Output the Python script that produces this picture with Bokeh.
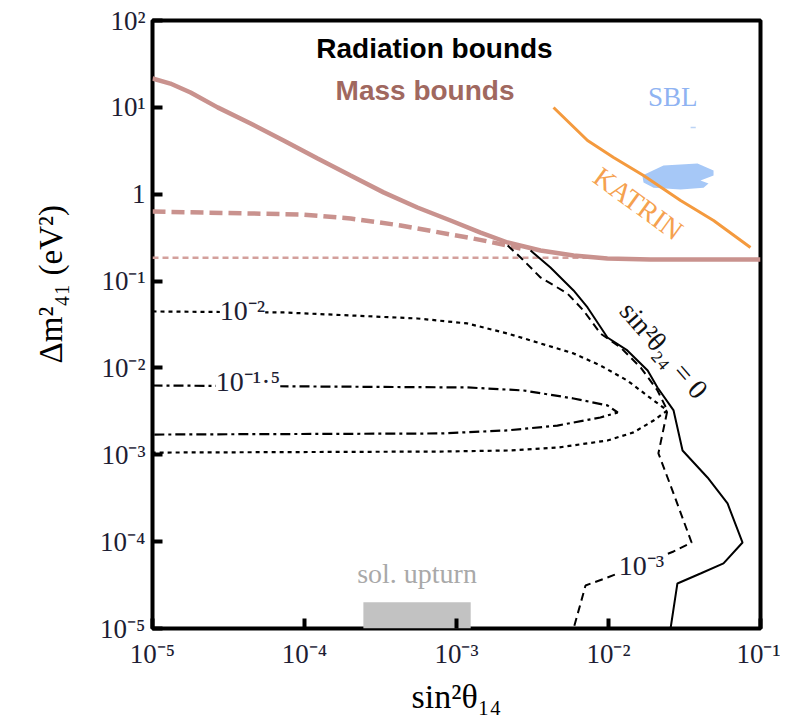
import math
from bokeh.plotting import figure
from bokeh.models import Range1d, FixedTicker, Label, Title
from bokeh.embed import file_html
from bokeh.resources import INLINE

# ---------------- data ----------------
x_ticks = [1e-5, 1e-4, 1e-3, 1e-2, 1e-1]
x_tick_labels = ["10⁻⁵", "10⁻⁴", "10⁻³", "10⁻²", "10⁻¹"]
y_ticks = [1e-5, 1e-4, 1e-3, 1e-2, 1e-1, 1.0, 10.0, 100.0]
y_tick_labels = ["10⁻⁵", "10⁻⁴", "10⁻³", "10⁻²", "10⁻¹", "1", "10¹", "10²"]

# mass bounds (pink)
mass_solid_x = [1.0e-5, 1.31e-5, 1.78e-5, 2.68e-5, 4.42e-5, 7.28e-5, 1.22e-4, 2.01e-4,
                3.31e-4, 5.53e-4, 9.14e-4, 1.44e-3, 2.17e-3, 3.57e-3, 5.89e-3, 9.84e-3,
                1.89e-2, 1.0e-1]
mass_solid_y = [21.5, 18.8, 14.8, 10.0, 6.52, 4.16, 2.58, 1.64,
                1.05, 0.703, 0.498, 0.362, 0.278, 0.225, 0.197, 0.182,
                0.177, 0.177]
mass_dashed_x = [1.0e-5, 4.42e-5, 9.42e-5, 2.01e-4, 4.29e-4, 9.14e-4, 1.29e-3, 2.17e-3, 2.64e-3]
mass_dashed_y = [0.632, 0.600, 0.585, 0.525, 0.437, 0.344, 0.309, 0.257, 0.237]
mass_dotted_x = [1.0e-5, 7.6e-3]
mass_dotted_y = [0.185, 0.185]

# KATRIN (orange)
katrin_x = [4.35e-3, 7.28e-3, 1.08e-2, 1.70e-2, 2.98e-2, 4.91e-2, 8.59e-2]
katrin_y = [9.95, 4.15, 2.65, 1.64, 0.847, 0.498, 0.244]

# SBL region (light blue)
sbl_x = [1.67e-2, 2.30e-2, 3.85e-2, 4.91e-2, 4.91e-2, 4.03e-2, 4.55e-2, 4.22e-2,
         2.98e-2, 1.98e-2, 1.70e-2]
sbl_y = [1.64, 2.14, 2.26, 1.87, 1.64, 1.44, 1.33, 1.19, 1.13, 1.19, 1.36]
sbl_mark_x = [3.47e-2, 3.75e-2]
sbl_mark_y = [5.86, 5.86]

# radiation bounds: sin^2(theta24) = 0 (solid)
rad0_x = [3.07e-3, 4.15e-3, 5.89e-3, 7.28e-3, 9.84e-3, 1.33e-2, 1.81e-2, 2.10e-2,
          2.68e-2, 3.07e-2, 4.48e-2, 6.07e-2, 7.62e-2, 5.71e-2, 4.03e-2, 2.84e-2, 2.56e-2]
rad0_y = [0.225, 0.143, 0.078, 0.0497, 0.0224, 0.0159, 9.35e-3, 5.96e-3,
          3.24e-3, 1.12e-3, 5.48e-4, 2.75e-4, 9.77e-5, 5.61e-5, 4.30e-5, 3.30e-5, 1.0e-5]

# sin^2(theta24) = 1e-3 (dashed)
rad3_x = [2.17e-3, 2.64e-3, 3.57e-3, 5.37e-3, 6.85e-3, 8.85e-3, 1.20e-2, 1.63e-2,
          2.10e-2, 2.44e-2, 2.13e-2, 2.68e-2, 3.52e-2, 2.68e-2, 9.84e-3, 7.06e-3,
          6.55e-3, 5.89e-3]
rad3_y = [0.257, 0.187, 0.110, 0.0719, 0.0458, 0.0249, 0.0172, 0.0101,
          5.50e-3, 3.24e-3, 1.04e-3, 3.58e-4, 9.77e-5, 7.71e-5, 3.86e-5, 3.13e-5,
          1.94e-5, 1.0e-5]

# sin^2(theta24) = 1e-2 (dotted)
rad2_x = [1.0e-5, 7.28e-5, 2.01e-4, 5.53e-4, 1.18e-3, 2.17e-3, 5.89e-3, 8.85e-3,
          1.33e-2, 1.98e-2, 2.44e-2, 1.98e-2, 1.46e-2, 9.84e-3, 4.61e-3, 2.17e-3,
          7.85e-4, 1.0e-5]
rad2_y = [0.0447, 0.0435, 0.0402, 0.0371, 0.0325, 0.0249, 0.0147, 0.01067,
          7.16e-3, 4.22e-3, 3.24e-3, 2.48e-3, 1.81e-3, 1.46e-3, 1.21e-3, 1.12e-3,
          1.09e-3, 1.06e-3]

# sin^2(theta24) = 10^-1.5 (dash-dot)
rad15_x = [1.0e-5, 1.18e-3, 2.76e-3, 5.89e-3, 9.84e-3, 1.15e-2, 8.85e-3, 4.61e-3,
           2.17e-3, 7.85e-4, 1.0e-5]
rad15_y = [6.28e-3, 5.96e-3, 5.50e-3, 4.45e-3, 3.70e-3, 3.07e-3, 2.69e-3, 2.17e-3,
           1.91e-3, 1.76e-3, 1.71e-3]

# solar upturn band
sol_left, sol_right = 2.44e-4, 1.24e-3
sol_bottom, sol_top = 1.0e-5, 2.0e-5

# ---------------- figure ----------------
SERIF = "Liberation Serif"
SANS = "Liberation Sans"

p = figure(frame_width=608, frame_height=608, x_axis_type="log", y_axis_type="log",
           x_range=Range1d(1e-5, 1e-1), y_range=Range1d(1e-5, 1e2),
           output_backend="svg", toolbar_location=None,
           min_border_left=152, min_border_right=20, min_border_top=20,
           min_border_bottom=86)
p.grid.visible = False
p.background_fill_color = "white"
p.border_fill_color = "white"
p.outline_line_color = "black"
p.outline_line_width = 4
p.outline_line_alpha = 1.0

p.xaxis.ticker = FixedTicker(ticks=x_ticks)
p.yaxis.ticker = FixedTicker(ticks=y_ticks)
p.xaxis.major_label_overrides = dict(zip(x_ticks, x_tick_labels))
p.yaxis.major_label_overrides = dict(zip(y_ticks, y_tick_labels))
for ax in (p.xaxis, p.yaxis):
    ax.axis_line_color = None
    ax.major_tick_in = 10
    ax.major_tick_out = 0
    ax.major_tick_line_width = 4
    ax.major_tick_line_color = "black"
    ax.minor_tick_line_color = None
    ax.major_label_text_font = SERIF
    ax.major_label_text_font_size = "27px"
    ax.major_label_text_color = "#1d1d33"
p.xaxis.major_label_standoff = 10
p.yaxis.major_label_standoff = 7

p.xaxis.axis_label = "sin²θ₁₄"
p.xaxis.axis_label_text_font = SERIF
p.xaxis.axis_label_text_font_size = "34px"
p.xaxis.axis_label_text_font_style = "normal"
p.xaxis.axis_label_text_color = "black"
p.xaxis.axis_label_standoff = 6

# y-axis title, shifted up like in the original
p.add_layout(Title(text="Δm²₄₁ (eV²)", align="left", offset=265, standoff=58,
                   vertical_align="bottom",
                   text_font=SERIF, text_font_size="33px", text_font_style="normal",
                   text_color="black"), "left")

# solar upturn box
p.quad(left=[sol_left], right=[sol_right], bottom=[sol_bottom], top=[sol_top],
       fill_color="#c2c2c2", line_color=None)

# SBL region
p.patch(sbl_x, sbl_y, fill_color="#a6c8f7", line_color=None)
p.line(sbl_mark_x, sbl_mark_y, line_color="#bcd4f5", line_width=1.5)

# mass bounds
p.line(mass_dotted_x, mass_dotted_y, line_color="#d3a09c", line_width=2.5, line_dash="6 4")
p.line(mass_dashed_x, mass_dashed_y, line_color="#c9928e", line_width=4.5, line_dash="13 6")
p.line(mass_solid_x, mass_solid_y, line_color="#c9928e", line_width=4.5)

# KATRIN
p.line(katrin_x, katrin_y, line_color="#f49a3e", line_width=3)

# radiation bounds
p.line(rad2_x, rad2_y, line_color="black", line_width=2.2, line_dash="4 4")
p.line(rad15_x, rad15_y, line_color="black", line_width=2.2, line_dash="10 4 3 4")
p.line(rad3_x, rad3_y, line_color="black", line_width=2, line_dash="8 5")
p.line(rad0_x, rad0_y, line_color="black", line_width=2)

# ---------------- texts ----------------
def add_label(x, y, text, font, size, color, style="normal", angle=0.0,
              align="center", baseline="middle", bg=None):
    lab = Label(x=x, y=y, text=text, text_font=font, text_font_size=size,
                text_color=color, text_font_style=style, angle=angle,
                text_align=align, text_baseline=baseline)
    if bg is not None:
        lab.background_fill_color = bg
    p.add_layout(lab)

add_label(7.16e-4, 48.2, "Radiation bounds", SANS, "28px", "black", style="bold")
add_label(6.21e-4, 15.6, "Mass bounds", SANS, "28px", "#a0685f", style="bold")
add_label(2.65e-2, 13.2, "SBL", SERIF, "27px", "#8fb3f2")
add_label(1.57e-2, 0.782, "KATRIN", SERIF, "28px", "#f5a14f",
          angle=math.radians(-36))
add_label(2.32e-2, 0.0160, "sin²θ₂₄ = 0", SERIF, "28px", "#111111",
          angle=math.radians(-49))
add_label(3.91e-5, 0.0458, "10⁻²", SERIF, "28px", "#1d1d33", bg="white")
add_label(4.25e-5, 6.98e-3, "10⁻¹·⁵", SERIF, "28px", "#1d1d33", bg="white")
add_label(1.65e-2, 5.32e-5, "10⁻³", SERIF, "28px", "#1d1d33", bg="white")
add_label(5.50e-4, 4.30e-5, "sol. upturn", SERIF, "28px", "#a9a9a9")

open("out.html", "w").write(file_html(p, INLINE))
